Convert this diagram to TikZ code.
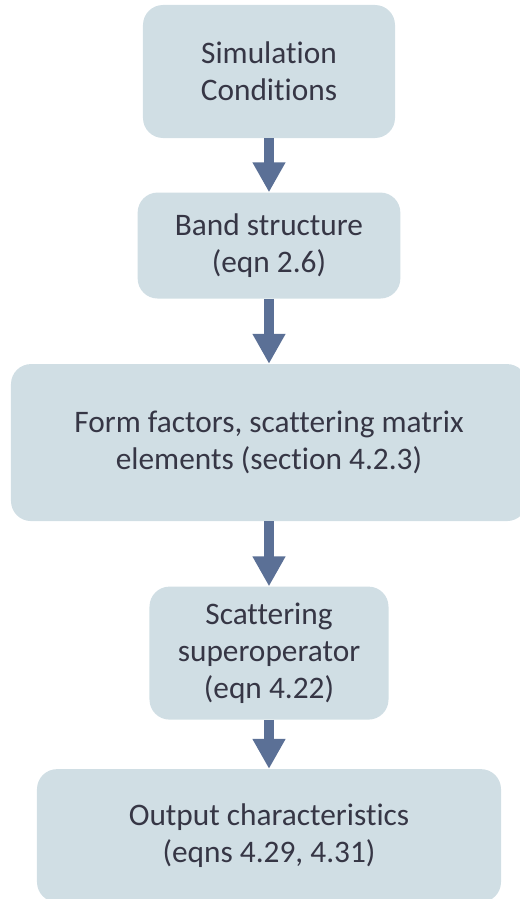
\documentclass[tikz,border=0pt]{standalone}
\usepackage{fontspec}
\setmainfont{Carlito}[Ligatures=NoCommon]
\usetikzlibrary{arrows.meta, positioning}
\definecolor{fcFill}{HTML}{D0DEE4}
\definecolor{fcArrow}{HTML}{5B7096}
\definecolor{fcText}{HTML}{363645}
\tikzset{
  fcnode/.style={
    fill=fcFill, draw=none, rounded corners=15pt, align=center,
    text=fcText, font=\fontsize{23.5pt}{27.75pt}\selectfont, inner sep=0pt
  },
  fcflow/.style={-{Triangle[length=22.5pt, width=23.25pt]}, line width=7.5pt, fcArrow}
}
\begin{document}
\begin{tikzpicture}
  \useasboundingbox (-201.75pt,53.625pt) rectangle (187.5pt,-620.625pt);
  \node[fcnode, minimum width=189pt, minimum height=99.75pt] (sim) {Simulation\\Conditions};
  \node[fcnode, below=40.5pt of sim, minimum width=197pt, minimum height=79.5pt] (band) {Band structure\\(eqn 2.6)};
  \node[fcnode, below=48.75pt of band, minimum width=387pt, minimum height=117.75pt] (form) {Form factors, scattering matrix\\elements (section 4.2.3)};
  \node[fcnode, below=48.75pt of form, minimum width=179.25pt, minimum height=99.75pt] (scat) {Scattering\\superoperator\\(eqn 4.22)};
  \node[fcnode, below=36.75pt of scat, minimum width=348pt, minimum height=99.75pt] (out) {Output characteristics\\(eqns 4.29, 4.31)};
  \draw[fcflow] (sim) -- (band);
  \draw[fcflow] (band) -- (form);
  \draw[fcflow] (form) -- (scat);
  \draw[fcflow] (scat) -- (out);
\end{tikzpicture}
\end{document}
